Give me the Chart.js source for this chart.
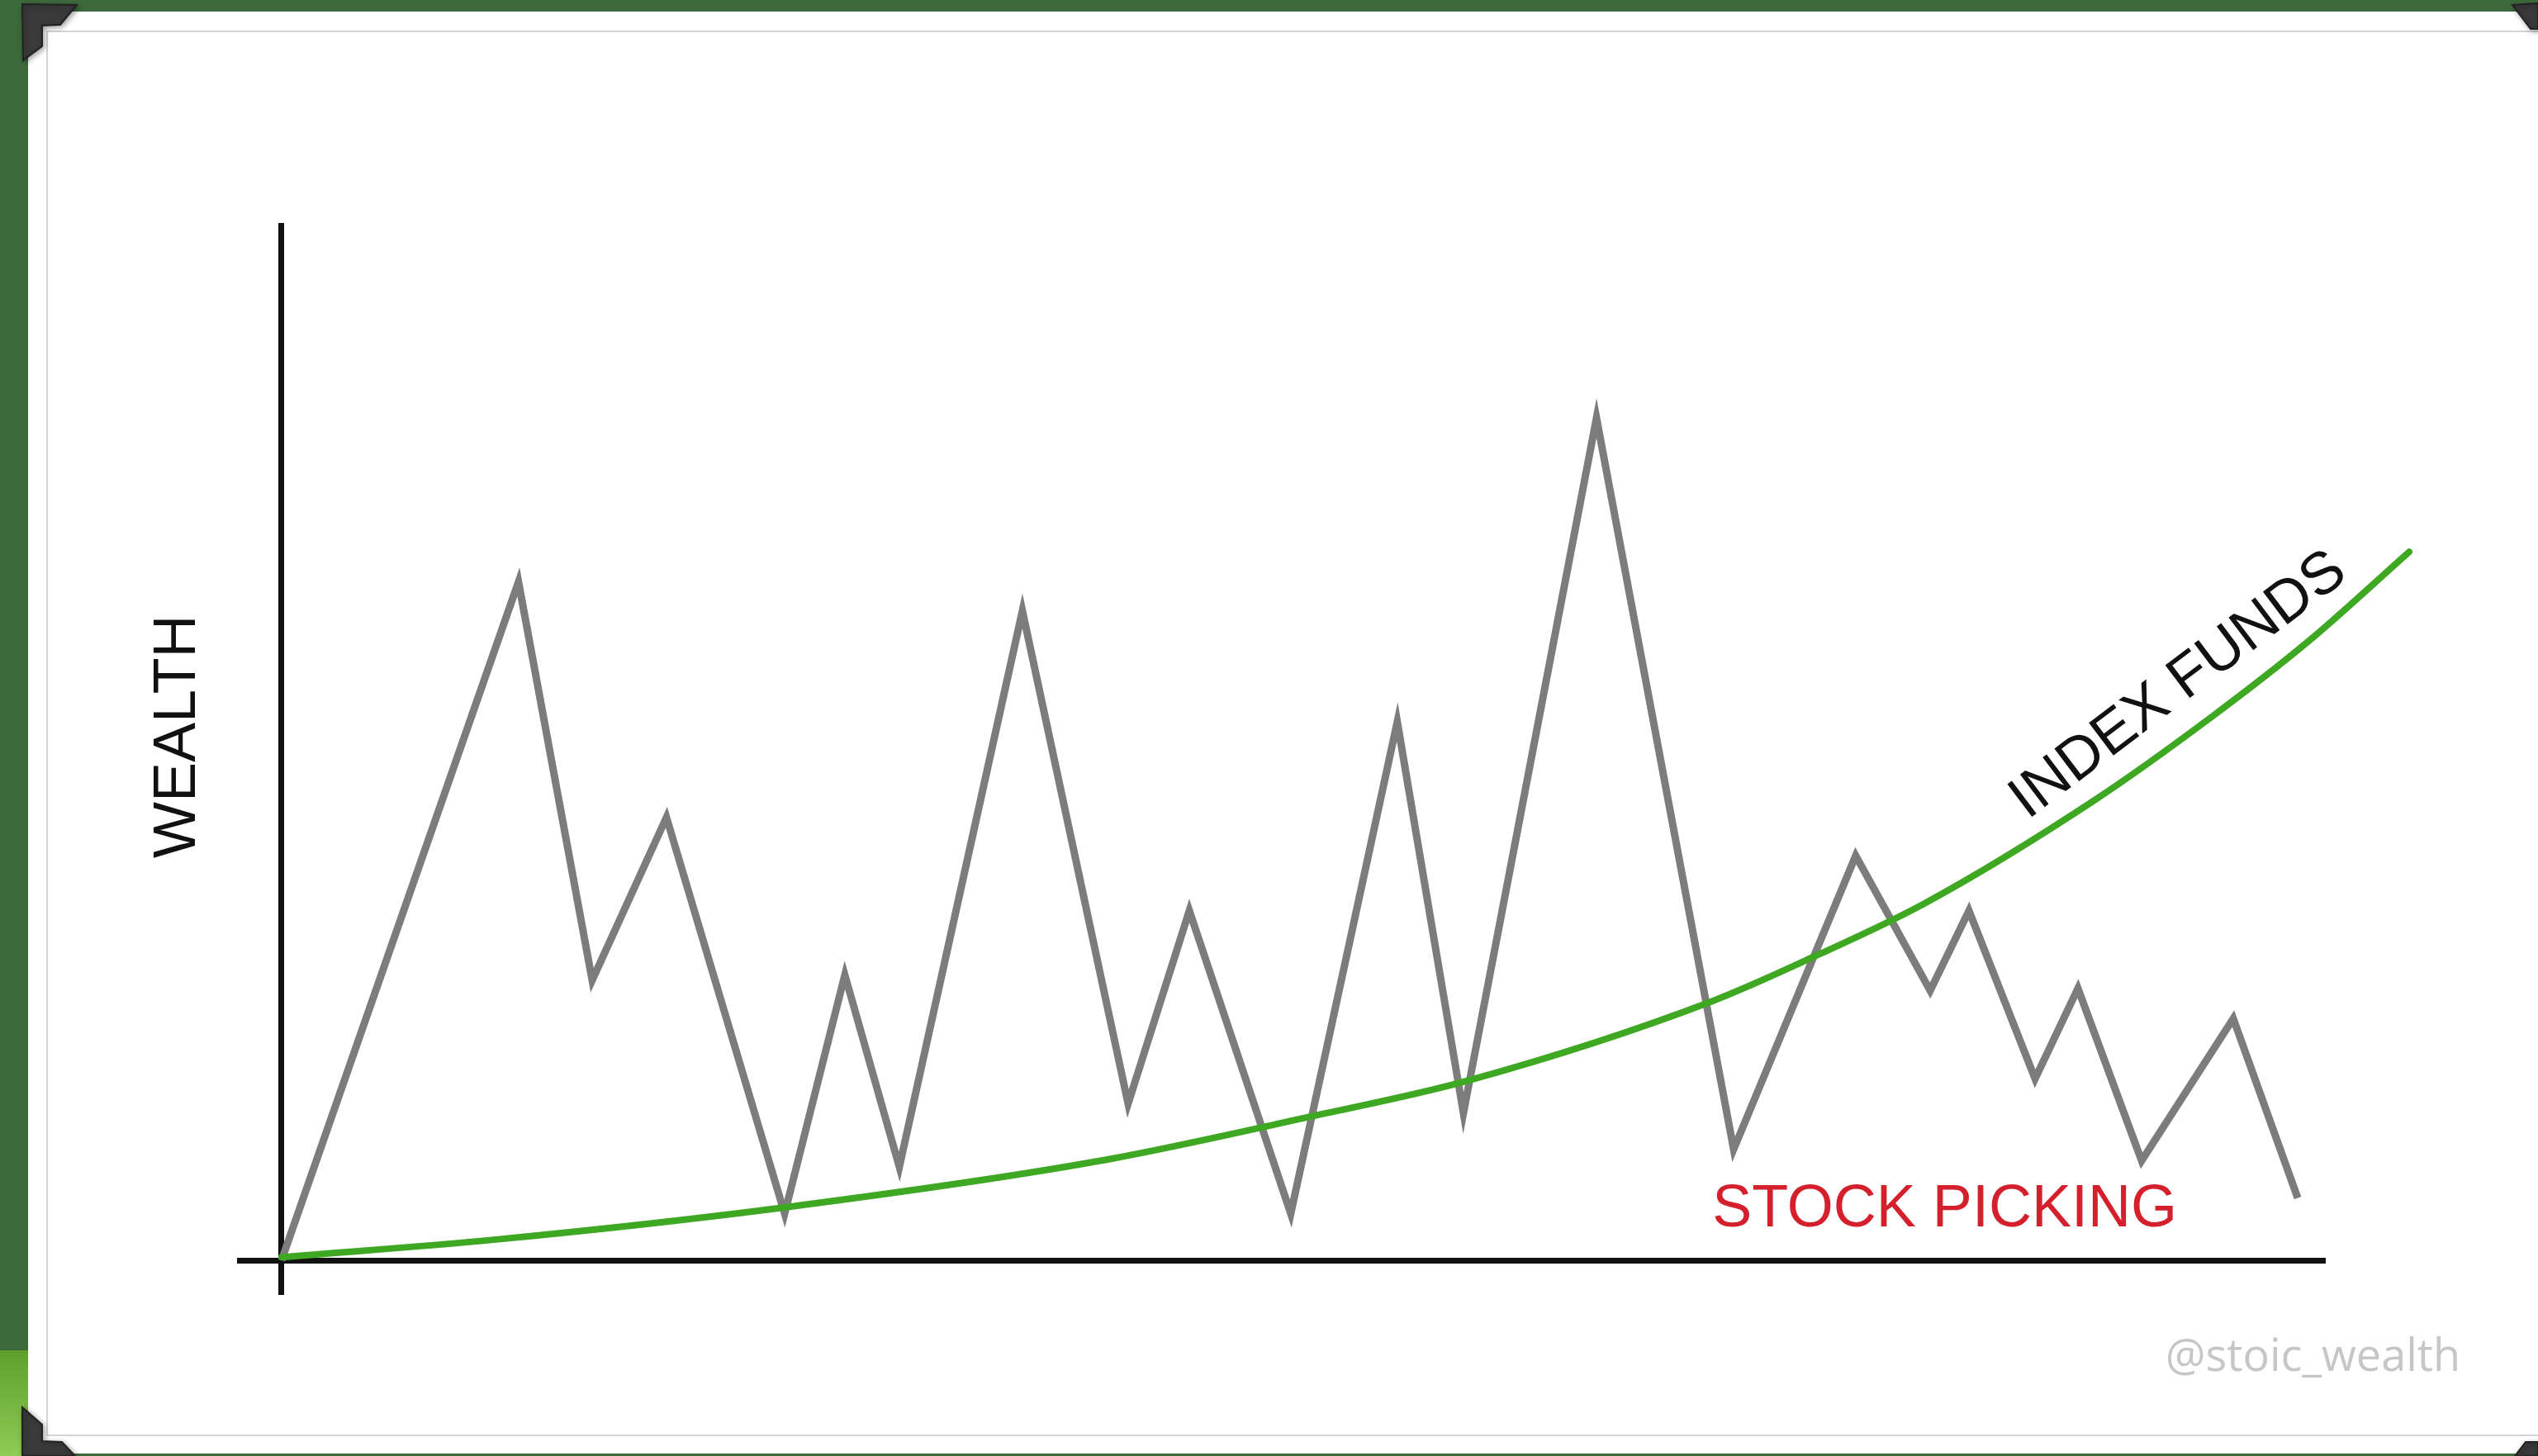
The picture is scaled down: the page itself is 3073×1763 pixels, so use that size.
<!DOCTYPE html>
<html>
<head>
<meta charset="utf-8">
<script src="https://cdn.jsdelivr.net/npm/chart.js@4.4.1/dist/chart.umd.min.js"></script>
<style>
  html, body { margin: 0; padding: 0; background: #3d6a3c; overflow: hidden; }
  #c { display: block; }
</style>
</head>
<body>
<canvas id="c" width="3073" height="1763"></canvas>
<script>
// ---- DATA (x = time, y = wealth, arbitrary units) ----
const stockX = [0, 11.61, 15.22, 18.86, 24.65, 27.60, 30.27, 36.30, 41.48, 44.48, 49.45, 54.67, 57.91, 64.43, 71.15, 77.13, 80.78, 82.68, 85.92, 88.02, 91.14, 95.63, 98.79];
const stockY = [0, 65.4, 27.0, 42.7, 4.5, 27.5, 9.0, 62.6, 15.1, 33.7, 4.5, 51.9, 14.2, 81.2, 10.7, 39.0, 26.0, 33.7, 17.5, 26.2, 9.6, 23.3, 6.0];
const indexX = [0, 10.5, 24.65, 40.0, 50.3, 58.1, 70.0, 75.23, 80.5, 88.79, 94.58, 99.39, 104.25];
const indexY = [0.3, 2.0, 5.1, 9.55, 13.8, 17.3, 24.9, 29.4, 34.4, 44.3, 52.4, 59.8, 68.3];
const xRange = [-2.06, 100];
const yRange = [0, 100];
const labelStock = "STOCK PICKING";
const labelIndex = "INDEX FUNDS";
const labelY = "WEALTH";
const watermark = "@stoic_wealth";

const stockPts = stockX.map((x, i) => ({ x, y: stockY[i] }));
const indexPts = indexX.map((x, i) => ({ x, y: indexY[i] }));

// Frame / photo-corner decoration
const framePlugin = {
  id: 'frame',
  beforeDraw(chart) {
    const ctx = chart.ctx;
    const W = chart.width, H = chart.height;
    ctx.save();
    ctx.fillStyle = '#3d6a3c';
    ctx.fillRect(0, 0, W, H);
    const g = ctx.createLinearGradient(0, 1635, 0, H);
    g.addColorStop(0, '#5e9f2c');
    g.addColorStop(1, '#8fcb55');
    ctx.fillStyle = g;
    ctx.fillRect(0, 1635, 34, H - 1635);
    ctx.fillStyle = '#ffffff';
    ctx.fillRect(34, 14, W - 34, 1746);
    ctx.strokeStyle = '#d4d4d4';
    ctx.lineWidth = 2;
    ctx.strokeRect(57, 38, W, 1700);
    function corner(pts) {
      ctx.beginPath();
      ctx.moveTo(pts[0][0], pts[0][1]);
      for (let i = 1; i < pts.length; i++) ctx.lineTo(pts[i][0], pts[i][1]);
      ctx.closePath();
      ctx.fillStyle = '#3a3a3a';
      ctx.fill();
      ctx.strokeStyle = '#222';
      ctx.lineWidth = 2;
      ctx.stroke();
    }
    ctx.shadowColor = 'rgba(0,0,0,0.35)';
    ctx.shadowBlur = 6;
    ctx.shadowOffsetX = 2; ctx.shadowOffsetY = 2;
    corner([[27,5],[93,6],[73,30],[51,31],[51,56],[28,73]]);
    corner([[27,1704],[51,1725],[51,1745],[75,1746],[91,1763],[27,1763]]);
    corner([[3042,6],[3073,4],[3073,35],[3064,35]]);
    corner([[3045,1763],[3058,1746],[3073,1746],[3073,1763]]);
    ctx.restore();
  }
};

const textPlugin = {
  id: 'texts',
  afterDatasetsDraw(chart) {
    const ctx = chart.ctx;
    const xs = chart.scales.x, ys = chart.scales.y;
    ctx.save();
    // STOCK PICKING
    ctx.fillStyle = '#d41f2c';
    ctx.font = '72px "Liberation Sans", Arial, sans-serif';
    ctx.textAlign = 'left';
    ctx.textBaseline = 'alphabetic';
    ctx.fillText(labelStock, xs.getPixelForValue(70.1), ys.getPixelForValue(3.3));
    // INDEX FUNDS
    ctx.save();
    ctx.translate(xs.getPixelForValue(92.96), ys.getPixelForValue(55.4));
    ctx.rotate(-37 * Math.PI / 180);
    ctx.fillStyle = '#111';
    ctx.font = '72px "Liberation Sans", Arial, sans-serif';
    ctx.textAlign = 'center';
    ctx.textBaseline = 'middle';
    ctx.fillText(labelIndex, 0, 0);
    ctx.restore();
    // WEALTH
    ctx.save();
    ctx.translate(xs.getPixelForValue(-5.06), ys.getPixelForValue(50.5));
    ctx.rotate(-Math.PI / 2);
    ctx.fillStyle = '#111';
    ctx.font = '72px "Liberation Sans", Arial, sans-serif';
    ctx.textAlign = 'center';
    ctx.textBaseline = 'middle';
    ctx.fillText(labelY, 0, 0);
    ctx.restore();
    // watermark
    ctx.fillStyle = '#c6c6c6';
    ctx.font = '54px "Open Sans", sans-serif';
    ctx.textAlign = 'left';
    ctx.textBaseline = 'middle';
    ctx.fillText(watermark, 2622, 1645);
    ctx.restore();
  }
};

new Chart(document.getElementById('c'), {
  type: 'line',
  data: {
    datasets: [
      {
        label: labelIndex,
        data: indexPts,
        borderColor: '#3ea822',
        borderWidth: 8,
        pointRadius: 0,
        cubicInterpolationMode: 'monotone',
        borderCapStyle: 'round',
        fill: false,
        clip: false,
        order: 0
      },
      {
        label: labelStock,
        data: stockPts,
        borderColor: '#7c7c7c',
        borderWidth: 9,
        pointRadius: 0,
        tension: 0,
        borderJoinStyle: 'miter',
        borderCapStyle: 'butt',
        fill: false,
        clip: false,
        order: 1
      }
    ]
  },
  options: {
    responsive: false,
    animation: false,
    devicePixelRatio: 1,
    layout: { padding: { left: 290, right: 261, top: 270, bottom: 195 } },
    plugins: { legend: { display: false }, tooltip: { enabled: false } },
    scales: {
      x: {
        type: 'linear',
        min: xRange[0],
        max: xRange[1],
        afterBuildTicks: (s) => { s.ticks = [{ value: 0 }]; },
        ticks: { display: false },
        grid: {
          color: (c) => (c.tick && c.tick.value === 0) ? '#111' : 'rgba(0,0,0,0)',
          lineWidth: 7,
          drawTicks: true,
          tickLength: 42
        },
        border: { display: true, color: '#111', width: 7 }
      },
      y: {
        type: 'linear',
        min: yRange[0],
        max: yRange[1],
        display: false
      }
    }
  },
  plugins: [framePlugin, textPlugin]
});
</script>
</body>
</html>
